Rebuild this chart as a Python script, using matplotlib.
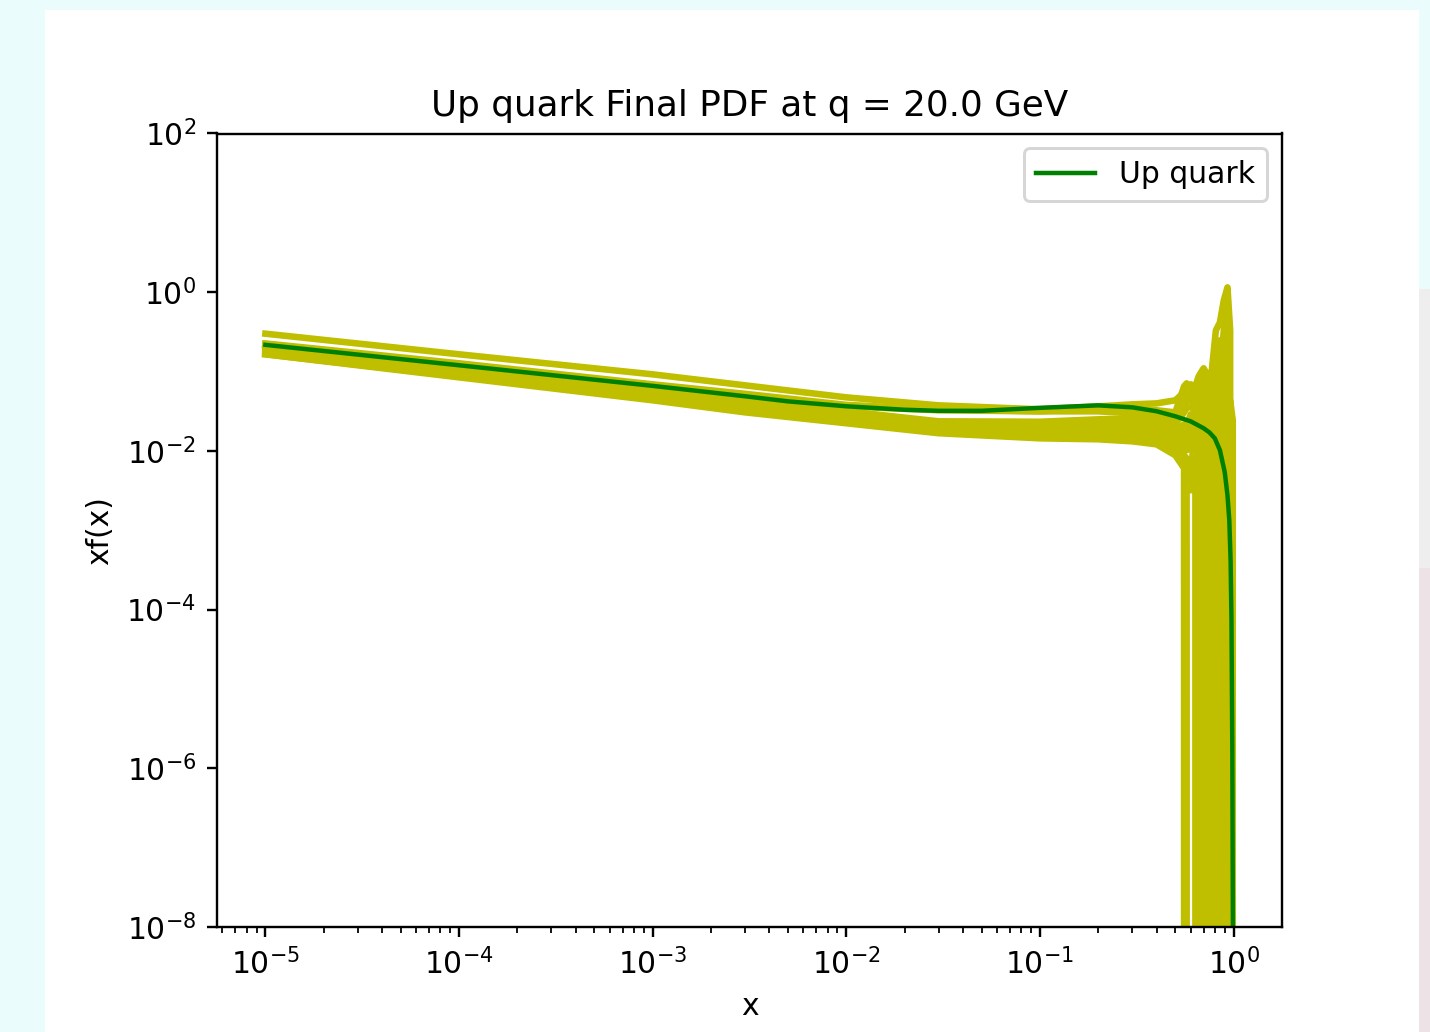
#!/usr/bin/env python3
# -*- coding: utf-8 -*-

import matplotlib as mpl
mpl.use("Agg")
import matplotlib.pyplot as plt
from matplotlib import patches
from matplotlib.ticker import NullLocator

# central PDF (green)
x_central = [1e-5, 1e-4, 1e-3, 3e-3, 5e-3, 1e-2, 2e-2, 3e-2, 5e-2, 0.1, 0.2,
             0.3, 0.4, 0.5, 0.6, 0.7, 0.75, 0.8, 0.85, 0.9, 0.93, 0.95,
             0.965, 0.975, 0.985, 0.995, 1.0]
xf_central = [0.217, 0.120, 0.066, 0.0488, 0.0421, 0.0365, 0.0330, 0.0320,
              0.0320, 0.0349, 0.0375, 0.0354, 0.0316, 0.0273, 0.0236,
              0.0193, 0.0171, 0.0144, 0.0102, 0.0054, 0.00275, 0.00135,
              4.2e-4, 7.4e-5, 1.7e-6, 1e-9, 0.0]

# replicas (yellow), all on one x grid
x_rep = [1e-5, 1e-4, 1e-3, 3e-3, 1e-2, 3e-2, 0.1, 0.2, 0.3, 0.4, 0.5,
         0.555, 0.572, 0.6, 0.635, 0.66, 0.70, 0.73, 0.77, 0.81, 0.85,
         0.89, 0.93, 0.96, 0.99, 1.0]

rep_01 = [0.300, 0.165, 0.0922, 0.0670, 0.0473, 0.0375, 0.0334, 0.0364,
          0.0386, 0.0397, 0.0434,
          0.0547, 0.0651, 0.0690, 0.0651, 0.0870, 0.110, 0.0922, 0.0977,
          0.330, 0.417, 0.789, 1.15, 0.330, 0, 0]
rep_02 = [0.226, 0.127, 0.0690, 0.0524, 0.0380, 0.0334, 0.0315, 0.0344,
          0.0334, 0.0325, 0.0306,
          0.0651, 0.0710, 0.0614, 0.0547, 0.0690, 0.0821, 0.0690, 0.0774,
          0.0651, 0.138, 0.247, 0, 0, 0, 0]
rep_03 = [0.220, 0.116, 0.0614, 0.0447, 0.0315, 0.0229, 0.0223, 0.0243,
          0.0243, 0.0236, 0.0216,
          0.0306, 0.0344, 0.0364, 0.0315, 0.0265, 0.0216, 0.0182, 0.0243,
          0.0774, 0.247, 0, 0, 0, 0, 0]
rep_04 = [0.208, 0.110, 0.0563, 0.0409, 0.0298, 0.0223, 0.0210, 0.0216,
          0.0210, 0.0198, 0.0182,
          0.0216, 0.0204, 0.0289, 0.0250, 0.0210, 0.0182, 0.0243, 0.0580,
          0.138, 0, 0, 0, 0, 0, 0]
rep_05 = [0.196, 0.1035, 0.0531, 0.0375, 0.0273, 0.0210, 0.0193, 0.0198,
          0.0193, 0.0182, 0.0162,
          0.0182, 0.0171, 0.0198, 0.0182, 0.0182, 0.0243, 0.0501, 0.0896,
          0, 0, 0, 0, 0, 0, 0]
rep_06 = [0.185, 0.1006, 0.0516, 0.0364, 0.0257, 0.0198, 0.0182, 0.0182,
          0.0177, 0.0167, 0.0148,
          0.0153, 0.0144, 0.0167, 0.0167, 0.0243, 0.0434, 0.0821,
          0, 0, 0, 0, 0, 0, 0, 0]
rep_07 = [0.180, 0.0949, 0.0487, 0.0344, 0.0250, 0.0187, 0.0171, 0.0171,
          0.0167, 0.0157, 0.0136,
          0.0128, 0.0121, 0.0136, 0.0243, 0.0434, 0.0896,
          0, 0, 0, 0, 0, 0, 0, 0, 0]
rep_08 = [0.174, 0.0922, 0.0473, 0.0334, 0.0243, 0.0182, 0.0162, 0.0162,
          0.0157, 0.0148, 0.0125,
          0.0108, 0.0102, 0.0108, 0.0434, 0.0774,
          0, 0, 0, 0, 0, 0, 0, 0, 0, 0]
rep_09 = [0.169, 0.0896, 0.0460, 0.0325, 0.0236, 0.0177, 0.0153, 0.0153,
          0.0148, 0.0140, 0.0114,
          0.00880, 0.00807, 0.00319, 0.0434,
          0, 0, 0, 0, 0, 0, 0, 0, 0, 0, 0]
rep_10 = [0.165, 0.0870, 0.0447, 0.0315, 0.0229, 0.0171, 0.0148, 0.0144,
          0.0140, 0.0128, 0.0102,
          0.00740, 0.00640,
          0, 0, 0, 0, 0, 0, 0, 0, 0, 0, 0, 0, 0]
rep_11 = [0.165, 0.0845, 0.0434, 0.0306, 0.0223, 0.0167, 0.0144, 0.0140,
          0.0132, 0.0121, 0.00880,
          0.00604,
          0, 0, 0, 0, 0, 0, 0, 0, 0, 0, 0, 0, 0, 0]
rep_12 = [0.218, 0.123, 0.0670, 0.0487, 0.0364, 0.0325, 0.0315, 0.0315,
          0.0298, 0.0281, 0.0257,
          0.0460, 0.0501, 0.0531, 0.0386, 0.0325, 0.0306, 0.0289, 0.0306,
          0.0434, 0.0774, 0.330, 0.789, 0, 0, 0]
rep_13 = [0.214, 0.113, 0.0597, 0.0434, 0.0315, 0.0236, 0.0233, 0.0250,
          0.0257, 0.0250, 0.0236,
          0.0386, 0.0421, 0.0447, 0.0375, 0.0325, 0.0273, 0.0236, 0.0198,
          0.0162, 0.0125, 0.00855, 0.0243, 0.0434, 0.0243, 0]

replicas = [rep_01, rep_02, rep_03, rep_04, rep_05, rep_06, rep_07,
            rep_08, rep_09, rep_10, rep_11, rep_12, rep_13]

q = 20.0

dpi = 214.7
fig = plt.figure(figsize=(1430 / dpi, 1032 / dpi), dpi=dpi)
fig.patch.set_facecolor('#eafdfc')

# page background around the figure
fig.add_artist(patches.Rectangle((1419 / 1430, 0.45), 11 / 1430, 0.27,
                                 transform=fig.transFigure,
                                 facecolor='#eeeeee', edgecolor='none',
                                 zorder=-2))
fig.add_artist(patches.Rectangle((1419 / 1430, 0), 11 / 1430, 0.45,
                                 transform=fig.transFigure,
                                 facecolor='#ede3e6', edgecolor='none',
                                 zorder=-2))
fig.add_artist(patches.Rectangle((45 / 1430, 0), 1374 / 1430, 1022 / 1032,
                                 transform=fig.transFigure,
                                 facecolor='white', edgecolor='none',
                                 zorder=-1))

ax = fig.add_axes([217 / 1430, 1 - 927 / 1032, 1065 / 1430, 793.5 / 1032])

for rep in replicas:
    ax.plot(x_rep, rep, 'y', lw=2.2)
ax.plot(x_central, xf_central, 'g', label='Up quark')

ax.set_xscale('log')
ax.set_yscale('log')
ax.set_ylim(1e-8, 1e2)
ax.set_yticks([1e-8, 1e-6, 1e-4, 1e-2, 1e0, 1e2])
ax.yaxis.set_minor_locator(NullLocator())

ax.set_title('Up quark Final PDF at q = {} GeV'.format(q))
ax.set_xlabel('x')
ax.set_ylabel('xf(x)')
ax.legend(loc='upper right')

plt.savefig('out.png', dpi=dpi, facecolor=fig.get_facecolor())
